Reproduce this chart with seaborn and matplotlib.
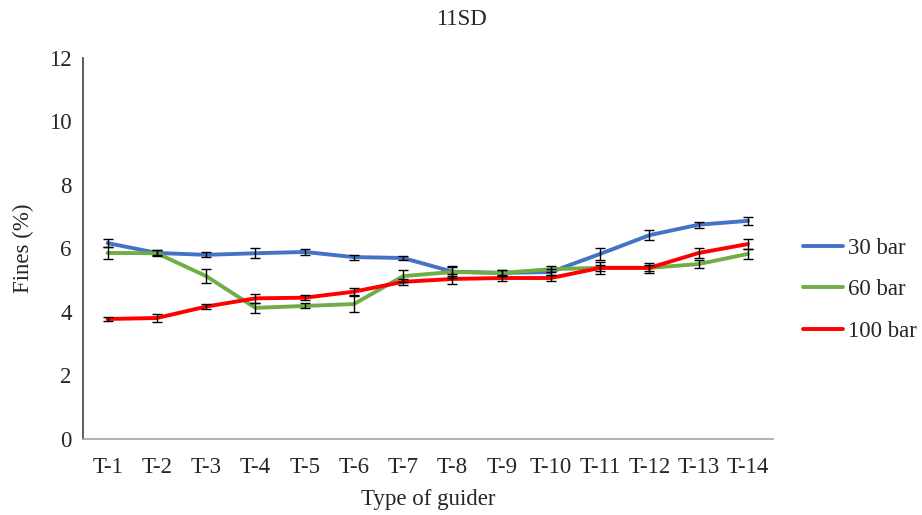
import matplotlib
matplotlib.use("Agg")
import matplotlib.pyplot as plt
import seaborn as sns
import pandas as pd
import numpy as np

guiders = ["T-1", "T-2", "T-3", "T-4", "T-5", "T-6", "T-7",
           "T-8", "T-9", "T-10", "T-11", "T-12", "T-13", "T-14"]
series_names = ["30 bar", "60 bar", "100 bar"]

fines_30 = [6.17, 5.86, 5.80, 5.85, 5.89, 5.73, 5.70, 5.27, 5.23, 5.26, 5.83, 6.42, 6.75, 6.87]
fines_60 = [5.86, 5.85, 5.13, 4.13, 4.19, 4.25, 5.13, 5.26, 5.23, 5.35, 5.39, 5.39, 5.51, 5.83]
fines_100 = [3.78, 3.81, 4.17, 4.43, 4.45, 4.64, 4.95, 5.04, 5.07, 5.07, 5.39, 5.39, 5.86, 6.14]

err_30 = [0.12, 0.08, 0.08, 0.15, 0.10, 0.08, 0.07, 0.15, 0.10, 0.10, 0.20, 0.15, 0.10, 0.12]
err_60 = [0.20, 0.10, 0.22, 0.15, 0.08, 0.25, 0.20, 0.20, 0.10, 0.10, 0.20, 0.10, 0.12, 0.15]
err_100 = [0.07, 0.12, 0.07, 0.15, 0.08, 0.10, 0.10, 0.15, 0.10, 0.10, 0.10, 0.15, 0.15, 0.15]

colors = ["#4472C4", "#70AD47", "#FF0000"]

sns.set_style("white")
plt.rcParams["font.family"] = ["Liberation Serif", "DejaVu Serif"]

FS = 16.5

df = pd.DataFrame({
    "guider": guiders * 3,
    "pos": list(range(len(guiders))) * 3,
    "fines": fines_30 + fines_60 + fines_100,
    "err": err_30 + err_60 + err_100,
    "series": sum([[s] * len(guiders) for s in series_names], []),
})

fig = plt.figure(figsize=(9.22, 5.15), dpi=100)
ax = fig.add_axes([0.090, 0.1476, 0.748, 0.7398])

sns.lineplot(data=df, x="pos", y="fines", hue="series", hue_order=series_names,
             palette=colors, linewidth=2.8, ax=ax, errorbar=None, sort=False)

for name in series_names:
    sub = df[df["series"] == name]
    ax.errorbar(sub["pos"], sub["fines"], yerr=sub["err"], fmt="none",
                ecolor="black", elinewidth=1.0, capsize=3.8, capthick=1.0, zorder=5)

ax.set_xlim(-0.5, len(guiders) - 0.5)
ax.set_ylim(0, 12)
ax.set_xticks(range(len(guiders)))
ax.set_xticklabels(guiders)
ax.set_yticks(range(0, 13, 2))
ax.tick_params(axis="x", labelsize=FS, length=0, pad=13)
ax.tick_params(axis="y", labelsize=FS, length=0, pad=8)

for side in ["top", "right"]:
    ax.spines[side].set_visible(False)
ax.spines["left"].set_color("#404040")
ax.spines["left"].set_linewidth(1.2)
ax.spines["bottom"].set_color("#A6A6A6")
ax.spines["bottom"].set_linewidth(1.2)

ax.set_xlabel("Type of guider", fontsize=FS, labelpad=8)
ax.set_ylabel("Fines (%)", fontsize=FS, labelpad=11)
fig.text(0.5, 0.963, "11SD", ha="center", va="center", fontsize=FS)

handles, labels = ax.get_legend_handles_labels()
fig.legend(handles, labels, loc="center left", bbox_to_anchor=(0.871, 0.437),
           frameon=False, fontsize=FS, handlelength=1.75, handletextpad=0.2,
           labelspacing=0.9, borderpad=0, borderaxespad=0)
ax.get_legend().remove()

fig.savefig("out.png", dpi=100)
